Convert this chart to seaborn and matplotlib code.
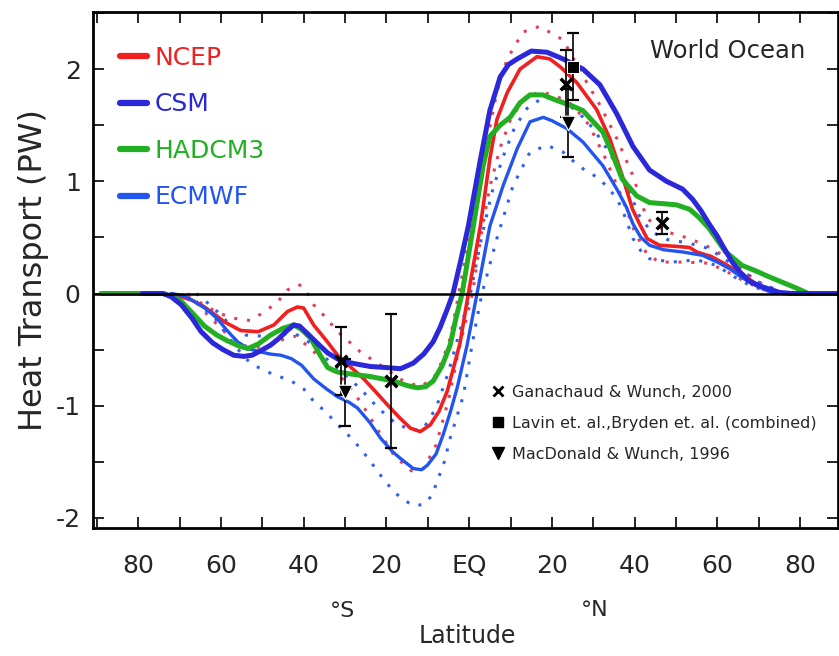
import matplotlib
matplotlib.use("Agg")
import matplotlib.pyplot as plt
import seaborn as sns
import pandas as pd
from matplotlib.lines import Line2D
from matplotlib.ticker import MultipleLocator

# ---------------- data ----------------
ncep_lat = [-72, -67, -64, -61, -59.3, -55.2, -51, -47.2, -43.9, -41.5, -40, -37.6, -34.5, -31.8,
            -28.5, -25.5, -22.5, -19.8, -17, -14.2, -11.8, -9.4, -7.3, -5.3, -3.7, -2.2, -0.2,
            2.7, 5, 6.7, 9.2, 12.3, 16.4, 19.5, 22, 26, 30.8, 34, 37, 39.5, 41.2, 43, 46, 50,
            53.3, 55, 58.5, 62, 66, 70, 74, 78]
ncep_val = [0, -0.06, -0.12, -0.2, -0.25, -0.33, -0.34, -0.28, -0.16, -0.12, -0.13, -0.28, -0.42, -0.55,
            -0.66, -0.76, -0.88, -0.99, -1.1, -1.2, -1.23, -1.17, -1.05, -0.87, -0.65, -0.44, 0,
            0.6, 1.2, 1.55, 1.79, 2.0, 2.11, 2.09, 2.02, 1.88, 1.64, 1.38, 1.05, 0.75, 0.62, 0.49, 0.43, 0.42,
            0.41, 0.37, 0.33, 0.26, 0.17, 0.07, 0.01, 0]

csm_lat = [-79, -74, -72, -69.6, -67, -64.8, -62, -59.5, -56.9, -54.5, -52.5, -50.4, -48, -46, -44,
           -42.4, -41, -39, -36.5, -34.2, -31, -27, -23.9, -20, -16.6, -13.5, -11, -8.7, -7, -5.3,
           -3.9, -2, -0.2, 2.7, 5, 7.5, 9.5, 11.6, 15, 18.8, 22.7, 27.5, 31.6, 35.7, 39.6, 43.6,
           47.7, 51.6, 54, 56, 58, 60, 61.2, 63.6, 65.5, 67.7, 70, 72.5, 75, 78, 89]
csm_val = [0, 0, -0.03, -0.1, -0.22, -0.34, -0.44, -0.5, -0.55, -0.56, -0.55, -0.51, -0.46, -0.4, -0.33,
           -0.28, -0.29, -0.36, -0.45, -0.53, -0.6, -0.63, -0.65, -0.66, -0.67, -0.62, -0.54, -0.43, -0.3, -0.14,
           0, 0.3, 0.6, 1.19, 1.63, 1.93, 2.04, 2.09, 2.16, 2.15, 2.09, 2.0, 1.86, 1.6, 1.31, 1.1,
           1.0, 0.93, 0.84, 0.74, 0.62, 0.51, 0.43, 0.28, 0.19, 0.11, 0.07, 0.04, 0.01, 0, 0]

had_lat = [-89, -74, -72, -69.6, -67, -64, -61, -58.5, -55.5, -53.5, -51, -48, -45, -42.4, -40.5,
           -38.3, -36, -34.2, -31.8, -28, -23.9, -18.3, -15, -12.5, -10.5, -8.7, -6.5, -4.6, -3.2,
           -1.7, 1, 3.4, 5, 7.5, 9.9, 12.3, 14.7, 17.8, 21.2, 25, 27.5, 30, 32.3, 34, 37, 40.5,
           43.6, 47, 50.1, 53.3, 55.5, 58, 62, 66, 69.4, 71.8, 75.7, 79, 82, 84]
had_val = [0, 0, -0.02, -0.07, -0.17, -0.29, -0.37, -0.42, -0.47, -0.49, -0.45, -0.37, -0.31, -0.28, -0.32,
           -0.4, -0.55, -0.66, -0.7, -0.72, -0.74, -0.78, -0.82, -0.84, -0.83, -0.78, -0.64, -0.46, -0.22,
           0, 0.6, 1.14, 1.4, 1.5, 1.57, 1.7, 1.77, 1.77, 1.72, 1.67, 1.63, 1.53, 1.44, 1.3, 1.02, 0.87,
           0.81, 0.8, 0.79, 0.75, 0.68, 0.58, 0.37, 0.25, 0.2, 0.16, 0.1, 0.05, 0, 0]

ecm_lat = [-72, -69, -66.5, -63.5, -61, -58.5, -56, -53.5, -50.5, -48, -45.5, -43, -40.5, -37.6, -34.5,
           -31.8, -29, -27, -24, -21.4, -18.5, -16.6, -13.5, -11.5, -10.1, -8, -6.3, -4.5, -2.9, -0.5,
           1.9, 5, 8.2, 11.6, 14.7, 17.9, 20, 23.6, 27.5, 32.3, 35.7, 38, 39.6, 41.5, 43.6, 47, 51.6,
           56.4, 60, 63, 66, 69.4, 73, 76]
ecm_val = [0, -0.02, -0.07, -0.14, -0.22, -0.33, -0.43, -0.49, -0.52, -0.54, -0.55, -0.58, -0.64, -0.76, -0.85,
           -0.92, -0.97, -1.02, -1.15, -1.29, -1.41, -1.47, -1.56, -1.57, -1.53, -1.43, -1.26, -1.05, -0.84, -0.46,
           0, 0.6, 0.96, 1.29, 1.53, 1.57, 1.54, 1.47, 1.35, 1.14, 0.93, 0.77, 0.62, 0.5, 0.43, 0.39, 0.37,
           0.34, 0.28, 0.22, 0.14, 0.07, 0.01, 0]

ncep_hi_lat = [-68, -64, -60.9, -57, -52.9, -49.8, -46.4, -44, -41.3, -40, -37.6, -34.5, -31.8, -29, -26.3,
               -21, -15.9, -11.8, -8.5, -6.5, -4.6, -2.5, 0, 2.5, 4.3, 6.7, 9.2, 13, 17, 22.7, 27.5,
               31.6, 35.7, 39.6, 42.9, 47.7, 53.3, 58.8, 63.6, 67, 71, 75]
ncep_hi_val = [-0.03, -0.1, -0.17, -0.22, -0.24, -0.17, -0.08, 0.03, 0.08, 0.06, -0.1, -0.22, -0.34, -0.43, -0.52,
               -0.65, -0.78, -0.83, -0.75, -0.6, -0.4, 0, 0.5, 1.0, 1.35, 1.8, 2.09, 2.33, 2.38, 2.26, 1.94,
               1.68, 1.38, 1.05, 0.67, 0.55, 0.49, 0.4, 0.28, 0.18, 0.08, 0.02]

ncep_lo_lat = [-68, -63, -58, -54, -50, -46, -42, -38, -34, -30, -26, -22, -18, -14, -11, -8, -5, -2.5,
               0.8, 3, 5, 7.5, 10, 13, 17, 21, 25, 29, 33, 37, 40, 43, 46, 52, 58, 62, 66, 70, 74]
ncep_lo_val = [0, -0.2, -0.38, -0.47, -0.48, -0.42, -0.38, -0.5, -0.66, -0.78, -0.98, -1.22, -1.45, -1.58, -1.56,
               -1.35, -0.95, -0.5, 0, 0.55, 0.95, 1.3, 1.55, 1.72, 1.8, 1.76, 1.68, 1.5, 1.2, 0.85, 0.55,
               0.35, 0.28, 0.28, 0.27, 0.2, 0.12, 0.05, 0]

ecm_hi_lat = [-66, -62, -58, -54, -50, -46, -42, -38, -34, -30, -26, -22, -18, -14, -11, -8, -5, -2,
              0.3, 3, 5.5, 8, 11, 14, 18, 22, 26, 30, 34, 38, 41, 44, 48, 53, 58, 62, 66, 70, 75]
ecm_hi_val = [0, -0.12, -0.27, -0.37, -0.38, -0.36, -0.36, -0.45, -0.6, -0.72, -0.86, -1.02, -1.15, -1.22, -1.2,
              -1.02, -0.7, -0.3, 0, 0.5, 0.9, 1.2, 1.48, 1.65, 1.75, 1.72, 1.63, 1.47, 1.25, 0.98, 0.7,
              0.55, 0.48, 0.45, 0.4, 0.3, 0.2, 0.1, 0.02]

ecm_lo_lat = [-66, -61, -57, -54, -52, -48, -43, -40, -37.6, -34.5, -31.8, -29, -26.3, -24, -21.4, -19,
              -16.6, -13.5, -11, -9, -7.7, -6, -4.6, -3, -1.4, 0.5, 1.9, 3.1, 6.7, 10.6, 14.7, 18.8,
              22.7, 26.7, 31.6, 35.7, 37.5, 39.6, 41.5, 43.6, 49, 55, 59.8, 64, 68, 72]
ecm_lo_val = [-0.07, -0.24, -0.45, -0.58, -0.64, -0.71, -0.78, -0.85, -0.96, -1.06, -1.17, -1.27, -1.38, -1.49,
              -1.62, -1.73, -1.82, -1.89, -1.88, -1.8, -1.67, -1.5, -1.29, -1.1, -0.91, -0.5, -0.22, 0,
              0.49, 0.96, 1.26, 1.32, 1.26, 1.13, 1.02, 0.85, 0.7, 0.49, 0.38, 0.31, 0.28, 0.3, 0.25,
              0.15, 0.07, 0.02]

# observations
gw_lat = [-31, -19, 23.3, 46.5]
gw_val = [-0.6, -0.78, 1.87, 0.63]
gw_err = [0.3, 0.6, 0.3, 0.1]
lb_lat = [25]
lb_val = [2.02]
lb_err = [0.3]
md_lat = [-30, 24]
md_val = [-0.88, 1.52]
md_err = [0.3, 0.3]

model_names = ["NCEP", "CSM", "HADCM3", "ECMWF"]
obs_names = ["Ganachaud & Wunch, 2000",
             "Lavin et. al.,Bryden et. al. (combined)",
             "MacDonald & Wunch, 1996"]
xtick_vals = [-80, -60, -40, -20, 0, 20, 40, 60, 80]
xtick_labels = ["80", "60", "40", "20", "EQ", "20", "40", "60", "80"]
ytick_vals = [-2, -1, 0, 1, 2]
ytick_labels = ["-2", "-1", "0", "1", "2"]

# ---------------- styling ----------------
sns.set_style("ticks")
plt.rcParams["font.family"] = ["DejaVu Sans"]

c_ncep = "#f02020"
c_csm = "#2a28d8"
c_had = "#22b022"
c_ecm = "#2255f0"
c_ncep_d = "#e0405a"
c_ecm_d = "#3060f0"

fig = plt.figure(figsize=(8.39, 6.56), dpi=100)
ax = fig.add_axes([0.111, 0.195, 0.888, 0.787])

def df(lat, val):
    return pd.DataFrame({"lat": lat, "val": val})

dot = (0, (1, 3.2))
for lat, val, col in [(ncep_hi_lat, ncep_hi_val, c_ncep_d), (ncep_lo_lat, ncep_lo_val, c_ncep_d),
                      (ecm_hi_lat, ecm_hi_val, c_ecm_d), (ecm_lo_lat, ecm_lo_val, c_ecm_d)]:
    sns.lineplot(data=df(lat, val), x="lat", y="val", ax=ax, color=col, lw=2.2,
                 linestyle=dot, sort=False, estimator=None)

sns.lineplot(data=df(ncep_lat, ncep_val), x="lat", y="val", ax=ax, color=c_ncep, lw=2.6,
             sort=False, estimator=None)
sns.lineplot(data=df(ecm_lat, ecm_val), x="lat", y="val", ax=ax, color=c_ecm, lw=2.4,
             sort=False, estimator=None)
sns.lineplot(data=df(had_lat, had_val), x="lat", y="val", ax=ax, color=c_had, lw=3.6,
             sort=False, estimator=None)
sns.lineplot(data=df(csm_lat, csm_val), x="lat", y="val", ax=ax, color=c_csm, lw=3.6,
             sort=False, estimator=None)

ax.axhline(0, color="black", lw=1.8, zorder=5)

# observations with error bars
for lat, val, err in [(gw_lat, gw_val, gw_err), (lb_lat, lb_val, lb_err), (md_lat, md_val, md_err)]:
    ax.errorbar(lat, val, yerr=err, fmt="none", ecolor="black", elinewidth=1.2,
                capsize=4, capthick=1.6, zorder=6)
sns.scatterplot(x=gw_lat, y=gw_val, ax=ax, marker="x", s=70, color="black", linewidth=2.5, zorder=7)
sns.scatterplot(x=lb_lat, y=lb_val, ax=ax, marker="s", s=80, color="black", zorder=7)
sns.scatterplot(x=md_lat, y=md_val, ax=ax, marker="v", s=110, color="black", zorder=7)

ax.set_xlim(-90.9, 89.2)
ax.set_ylim(-2.09, 2.51)
ax.set_xticks(xtick_vals)
ax.set_xticklabels(xtick_labels)
ax.xaxis.set_minor_locator(MultipleLocator(10))
ax.set_yticks(ytick_vals)
ax.set_yticklabels(ytick_labels)
ax.yaxis.set_minor_locator(MultipleLocator(0.5))
ax.tick_params(which="both", direction="in", top=True, right=True, length=8, width=1.4)
ax.tick_params(axis="x", which="major", labelsize=18, pad=19)
ax.tick_params(axis="y", which="major", labelsize=18, pad=9)
for s in ax.spines.values():
    s.set_linewidth(2)
    s.set_color("black")
ax.set_xlabel("")
ax.set_ylabel("Heat Transport (PW)", fontsize=23, labelpad=5)

# model legend
handles = [Line2D([], [], color=c, lw=4.5) for c in (c_ncep, c_csm, c_had, c_ecm)]
leg1 = ax.legend(handles, model_names, loc="upper left", bbox_to_anchor=(0.036, 0.934),
                 frameon=False, fontsize=18, handlelength=1.1, handletextpad=0.3,
                 labelspacing=0.9, borderpad=0, borderaxespad=0,
                 labelcolor=[c_ncep, c_csm, c_had, c_ecm])
ax.add_artist(leg1)

# observation legend
ohandles = [Line2D([], [], ls="none", marker="x", color="black", ms=7, mew=2),
            Line2D([], [], ls="none", marker="s", color="black", ms=7),
            Line2D([], [], ls="none", marker="v", color="black", ms=8)]
ax.legend(ohandles, obs_names, loc="upper left", bbox_to_anchor=(0.535, 0.277), frameon=False,
          fontsize=11.5, handlelength=0.8, handletextpad=0.5, labelspacing=1.0,
          borderpad=0, borderaxespad=0)

ax.text(0.851, 0.925, "World Ocean", transform=ax.transAxes, ha="center", va="center",
        fontsize=17.5)
fig.text(0.408, 0.069, "°S", ha="center", va="center", fontsize=16)
fig.text(0.709, 0.070, "°N", ha="center", va="center", fontsize=16)
fig.text(0.557, 0.030, "Latitude", ha="center", va="center", fontsize=17)

fig.savefig("out.png", dpi=100, facecolor="white")
